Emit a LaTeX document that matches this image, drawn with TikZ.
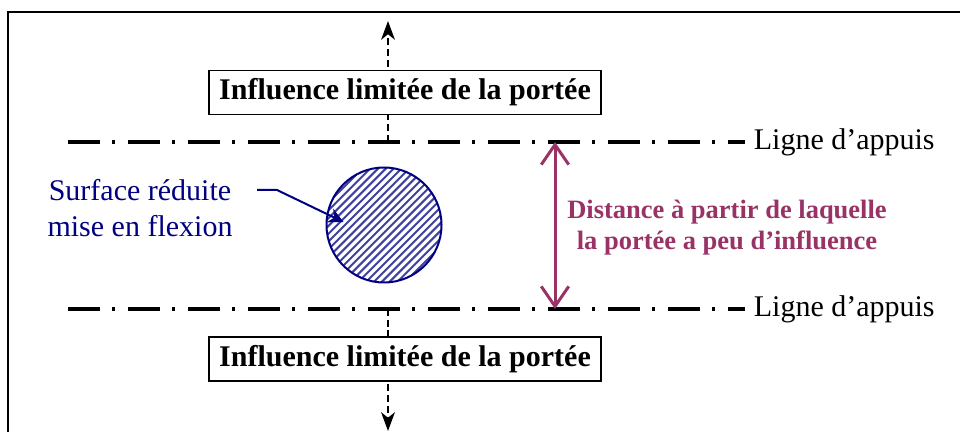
\documentclass[tikz,border=0pt]{standalone}
\usepackage{fontspec}
\setmainfont{Liberation Serif}
\usetikzlibrary{arrows.meta,calc}
\definecolor{BleuSurface}{RGB}{0,0,128}
\definecolor{PruneDist}{RGB}{153,51,102}

\tikzset{
  appui/.style={line width=1.6pt,dash pattern=on 12.8pt off 4.8pt on 1.2pt off 5.2pt},
  boite/.style={draw,fill=white,line width=0.6pt,inner xsep=4pt,minimum height=15.6pt,
    font=\bfseries\fontsize{12}{14}\selectfont},
  fleche/.style={line width=0.8pt,dash pattern=on 2.8pt off 1.5pt,-{Stealth[length=7.5pt,width=5.5pt,inset=2.2pt]}},
  hachure/.style={BleuSurface!75,line width=0.8pt}
}

\begin{document}
\begin{tikzpicture}[x=0.4pt,y=-0.4pt]
  \useasboundingbox (0,0) rectangle (960,432);
  \clip (0,0) rectangle (960,432);
  \draw[line width=0.8pt] (8,12) rectangle (990,460);
  % lignes d'appuis
  \coordinate (H1) at (68,142);
  \coordinate (B1) at (68,309);
  \node[anchor=west,font=\fontsize{12}{14}\selectfont] (lab1) at (745,142) {Ligne d’appuis};
  \node[anchor=west,font=\fontsize{12}{14}\selectfont] (lab2) at (745,309) {Ligne d’appuis};
  \draw[appui] (H1) -- (lab1.west);
  \draw[appui] (B1) -- (lab2.west);
  % influence de la portee
  \coordinate (A1) at (388,142);
  \coordinate (F1) at (388,21);
  \coordinate (A2) at (388,309);
  \coordinate (F2) at (388,431);
  \draw[fleche] (A1) -- (F1);
  \draw[fleche] (A2) -- (F2);
  \node[boite] (inf1) at (405,92.5) {Influence limitée de la portée};
  \node[boite] (inf2) at (405,359) {Influence limitée de la portée};
  % surface reduite
  \node[circle,draw=BleuSurface,line width=0.8pt,minimum size=46pt,inner sep=0pt,
    path picture={
      \foreach \k in {-11,...,11}
        \draw[hachure] ($(path picture bounding box.center)+(\k*7.8-70,70)$) -- ++(140,-140);
    }] (surf) at (384,225) {};
  \node[BleuSurface,align=center,font=\fontsize{12}{14.4}\selectfont] (txt) at (140,208)
    {Surface réduite\\mise en flexion};
  \coordinate (S0) at (257,190);
  \draw[BleuSurface,line width=0.8pt,-{Stealth[length=6pt,width=6pt]}]
    (S0) -- ++(20,0) -- ($(surf.west)+(18,-3)$);
  % distance
  \coordinate (D1) at (555,142);
  \coordinate (D2) at (555,309);
  \draw[PruneDist,line width=1.2pt,{Straight Barb[length=8pt,width=11pt]}-{Straight Barb[length=8pt,width=11pt]}] (D1) -- (D2);
  \node[PruneDist,align=center,font=\bfseries\fontsize{10.6}{12.4}\selectfont] (dist) at (727,228)
    {Distance à partir de laquelle\\la portée a peu d’influence};
\end{tikzpicture}
\end{document}
